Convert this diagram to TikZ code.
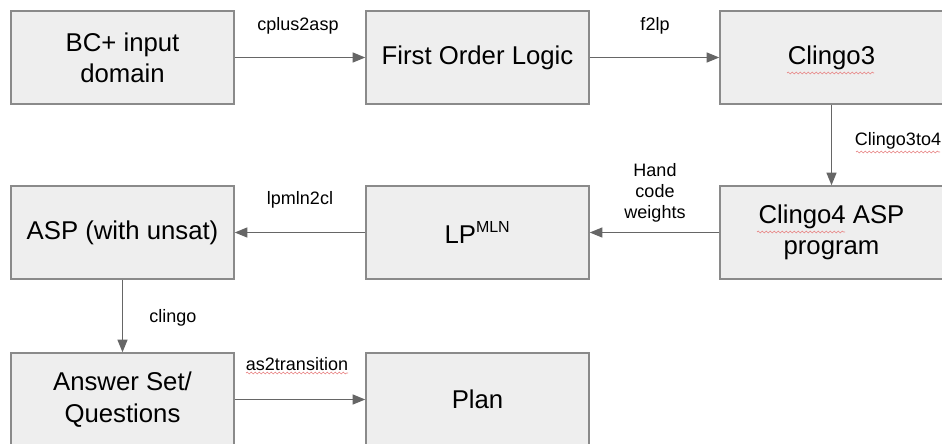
\documentclass[tikz,border=0pt]{standalone}
\usepackage{fontspec}
\setmainfont{Liberation Sans}
\usetikzlibrary{arrows.meta,decorations.pathmorphing}
\definecolor{boxfill}{HTML}{EEEEEE}
\definecolor{boxline}{HTML}{8A8A8A}
\definecolor{arrowcol}{HTML}{666666}
\definecolor{spellred}{HTML}{E88888}
\begin{document}
\begin{tikzpicture}[x=0.75pt,y=-0.75pt,
  stepbox/.style={draw=boxline,fill=boxfill,line width=1.1pt,minimum width=167.25pt,minimum height=69.75pt,
    inner sep=0pt,align=center,font=\fontsize{19.3pt}{23.5pt}\selectfont,text=black},
  conn/.style={draw=arrowcol,line width=1.1pt,-{Triangle[length=9.5pt,width=7.5pt]}},
  lbl/.style={inner sep=0pt,align=center,font=\fontsize{13.5pt}{15pt}\selectfont,text=black},
  spell/.style={draw=spellred,line width=0.5pt,decorate,decoration={snake,amplitude=0.7pt,segment length=3pt}}]
\useasboundingbox (0,0) rectangle (942,443);
\node[stepbox] (bc) at (122.5,57.5) {BC+ input\\domain};
\node[stepbox] (fol) at (477.5,57.5) {First Order Logic};
\node[stepbox] (c3) at (831.5,57.5) {Clingo3};
\node[stepbox] (c4) at (831.5,232.5) {Clingo4 ASP\\program};
\node[stepbox] (lp) at (477.5,232.5) {LP\textsuperscript{\fontsize{12pt}{12pt}\selectfont MLN}};
\node[stepbox] (asp) at (122.5,232.5) {ASP (with unsat)};
\node[stepbox] (ans) at (122.5,399.5) {Answer Set/\\Questions};
\node[stepbox] (plan) at (477.5,399.5) {Plan};
\draw[conn] (bc) -- (fol);
\draw[conn] (fol) -- (c3);
\draw[conn] (c3) -- (c4);
\draw[conn] (c4) -- (lp);
\draw[conn] (lp) -- (asp);
\draw[conn] (asp) -- (ans);
\draw[conn] (ans) -- (plan);
\node[lbl] (l1) at (298,26) {cplus2asp};
\node[lbl] (l2) at (655,26) {f2lp};
\node[lbl] (l3) at (898,141) {Clingo3to4};
\node[lbl,font=\fontsize{13.5pt}{15.5pt}\selectfont] (l4) at (655,193) {Hand\\code\\weights};
\node[lbl] (l5) at (300,200) {lpmln2cl};
\node[lbl] (l6) at (173,318) {clingo};
\node[lbl] (l7) at (297,364) {as2transition};
\coordinate (u1a) at (787,73); \coordinate (u1b) at (874,73);
\coordinate (u2a) at (757,232); \coordinate (u2b) at (845,232);
\coordinate (u3a) at (856,152); \coordinate (u3b) at (940,152);
\coordinate (u4a) at (246,373); \coordinate (u4b) at (348,373);
\draw[spell] (u1a) -- (u1b);
\draw[spell] (u2a) -- (u2b);
\draw[spell] (u3a) -- (u3b);
\draw[spell] (u4a) -- (u4b);
\end{tikzpicture}
\end{document}
